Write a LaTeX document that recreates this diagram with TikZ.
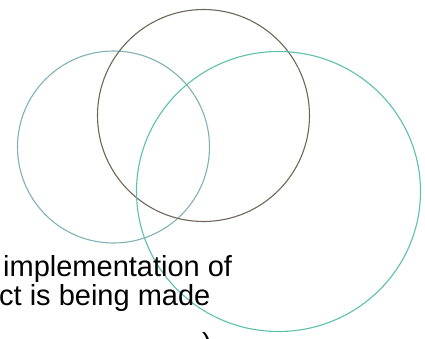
\documentclass[tikz,border=0pt]{standalone}
\usepackage{fontspec}
\setmainfont{Liberation Sans}
\usetikzlibrary{shapes.geometric}
\definecolor{ringleft}{HTML}{7FB2B4}
\definecolor{ringtop}{HTML}{6E665A}
\definecolor{ringright}{HTML}{5CC0AA}

\begin{document}
\begin{tikzpicture}[
    x=1pt, y=-1pt,
    ring/.style={ellipse, draw, line width=1.1pt, inner sep=0pt},
    line/.style={anchor=base west, inner sep=0pt, font=\fontsize{29}{33}\selectfont},
]
\clip (0,0) rectangle (425,338);
\node[ring, draw=ringleft, minimum width=192pt, minimum height=192pt] (C1) at (113.5,147) {};
\node[ring, draw=ringtop, minimum width=212pt, minimum height=212pt] (C2) at (203.5,115.5) {};
\node[ring, draw=ringright, minimum width=284pt, minimum height=280pt] (C3) at (278.5,191.5) {};
\node[line] (T1) at (3,276) {implementation of};
\node[line] (T2) at (-1,305) {ct is being made};
\node[line] (T3) at (202,353) {)};
\end{tikzpicture}
\end{document}
